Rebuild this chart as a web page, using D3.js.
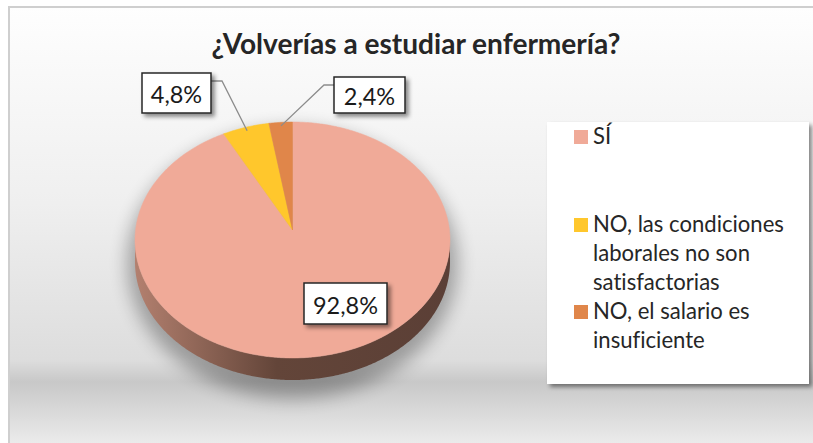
<!DOCTYPE html>
<html>
<head>
<meta charset="utf-8">
<script src="https://cdn.jsdelivr.net/npm/d3@7"></script>
<style>
  body { margin: 0; background: #fff; }
  text { font-family: Lato, "Open Sans", sans-serif; font-variant-ligatures: none; font-feature-settings: "liga" 0; }
</style>
</head>
<body>
<svg width="813" height="443"></svg>
<script>
// data
const categories = ["SÍ", "NO, las condiciones laborales no son satisfactorias", "NO, el salario es insuficiente"];
const values = [92.8, 4.8, 2.4];
const colors = ["#F0AA98", "#FFC72C", "#E0864A"];
const title = "¿Volverías a estudiar enfermería?";

var svg = d3.select("svg");
const width = +svg.attr("width");
const height = +svg.attr("height");

const locale = d3.formatLocale({ decimal: ",", thousands: ".", grouping: [3], currency: ["", "€"] });
const fmt = v => locale.format(".1f")(v) + "%";

// pie geometry
const cx = 292.5, cy = 240, rx = 157.5, ry = 118, depth = 22, apexDy = -10;

var defs = svg.append("defs");

var bg = defs.append("linearGradient").attr("id", "bg")
  .attr("gradientUnits", "userSpaceOnUse")
  .attr("x1", 0).attr("y1", 7).attr("x2", 0).attr("y2", height);
[[0, "#fefefe"], [0.45, "#efefef"], [0.81, "#dddddd"], [0.86, "#c8c8c8"], [1, "#ebebeb"]].forEach(s => {
  bg.append("stop").attr("offset", s[0]).attr("stop-color", s[1]);
});

var side = defs.append("linearGradient").attr("id", "side")
  .attr("gradientUnits", "userSpaceOnUse")
  .attr("x1", cx - rx).attr("y1", 0).attr("x2", cx + rx).attr("y2", 0);
[[0, "#b3806f"], [0.45, "#634539"], [1, "#5b3f36"]].forEach(s => {
  side.append("stop").attr("offset", s[0]).attr("stop-color", s[1]);
});

defs.append("filter").attr("id", "blur")
  .attr("x", "-30%").attr("y", "-30%").attr("width", "160%").attr("height", "160%")
  .append("feGaussianBlur").attr("stdDeviation", 9);

defs.append("filter").attr("id", "dshadow")
  .attr("x", "-20%").attr("y", "-20%").attr("width", "150%").attr("height", "160%")
  .append("feDropShadow").attr("dx", 3).attr("dy", 3).attr("stdDeviation", 2)
  .attr("flood-color", "#000").attr("flood-opacity", 0.45);

// chart area
svg.append("rect")
  .attr("x", 9).attr("y", 7).attr("width", width).attr("height", height)
  .attr("fill", "url(#bg)").attr("stroke", "#cfcfcf").attr("stroke-width", 2);

function fitText(sel, target) {
  var len = sel.node().getComputedTextLength();
  var fs = parseFloat(sel.attr("font-size"));
  sel.attr("font-size", fs * target / len);
  return fs * target / len;
}

// title
var titleText = svg.append("text")
  .attr("x", 416).attr("y", 54)
  .attr("text-anchor", "middle")
  .attr("font-weight", "bold")
  .attr("font-size", 24)
  .attr("fill", "#262626")
  .text(title);
fitText(titleText, 409);

function pt(a, dy) {
  return [cx + rx * Math.sin(a), cy - ry * Math.cos(a) + (dy || 0)];
}

function rim(a0, a1, dy) {
  var n = Math.max(2, Math.ceil((a1 - a0) / 0.01));
  var pts = [];
  for (var i = 0; i <= n; i++) pts.push(pt(a0 + (a1 - a0) * i / n, dy));
  return pts;
}

var pie = d3.pie().sort(null).value(d => d);
var arcs = pie(values);

var g = svg.append("g");

// shadow under the pie
g.append("ellipse")
  .attr("cx", cx).attr("cy", cy + depth / 2 + 12)
  .attr("rx", rx + 8).attr("ry", ry + depth / 2 + 6)
  .attr("fill", "#000").attr("opacity", 0.3)
  .attr("filter", "url(#blur)");

// side walls (front half only)
arcs.forEach((d, i) => {
  var a0 = Math.max(d.startAngle, Math.PI / 2);
  var a1 = Math.min(d.endAngle, 3 * Math.PI / 2);
  if (a1 <= a0) return;
  var pts = rim(a0, a1, 0).concat(rim(a0, a1, depth).reverse());
  g.append("path")
    .attr("d", d3.line()(pts) + "Z")
    .attr("fill", i === 0 ? "url(#side)" : d3.color(colors[i]).darker(1.2));
});

// top faces
arcs.forEach((d, i) => {
  var pts = [[cx, cy + apexDy]].concat(rim(d.startAngle, d.endAngle, 0));
  g.append("path")
    .attr("d", d3.line()(pts) + "Z")
    .attr("fill", colors[i])
    .attr("stroke", colors[i]).attr("stroke-width", 0.5);
});

// data labels
const labelBoxes = [
  { x: 304, y: 283, w: 83, h: 41 },
  { x: 142, y: 73, w: 69, h: 40 },
  { x: 334, y: 77, w: 71, h: 36 }
];

// leader lines for the small slices
arcs.forEach((d, i) => {
  if (i === 0) return;
  var b = labelBoxes[i];
  var mid = (d.startAngle + d.endAngle) / 2;
  var anchor = [cx + rx * 0.97 * Math.sin(mid), cy - ry * 0.97 * Math.cos(mid)];
  var left = b.x + b.w / 2 < anchor[0];
  var ex = left ? b.x + b.w : b.x;
  var ey = b.y + 8;
  var elbow = left ? ex + 11 : ex - 10;
  g.append("path")
    .attr("d", d3.line()([[ex, ey], [elbow, ey], anchor]))
    .attr("fill", "none").attr("stroke", "#8c8c8c").attr("stroke-width", 1.3);
});

var labelSize = null;
arcs.forEach((d, i) => {
  var b = labelBoxes[i];
  g.append("rect")
    .attr("x", b.x).attr("y", b.y).attr("width", b.w).attr("height", b.h)
    .attr("fill", "#fff").attr("stroke", "#262626").attr("stroke-width", 1.5)
    .attr("filter", "url(#dshadow)");
  var t = g.append("text")
    .attr("x", b.x + b.w / 2).attr("y", b.y + b.h / 2 + 1)
    .attr("text-anchor", "middle").attr("dominant-baseline", "central")
    .attr("font-size", 22).attr("fill", "#1a1a1a")
    .text(fmt(d.data));
  if (labelSize === null) labelSize = fitText(t, 65);
  else t.attr("font-size", labelSize);
});

// legend
var lg = svg.append("g");
lg.append("rect")
  .attr("x", 547).attr("y", 122).attr("width", 262).attr("height", 262)
  .attr("fill", "#fff").attr("filter", "url(#dshadow)");

const legendTop = [137, 225, 312];
const lineGap = 29;
var probe = lg.append("text").attr("font-size", 20).text("NO, las condiciones");
var legendSize = fitText(probe, 191);
probe.remove();

categories.forEach((c, i) => {
  lg.append("rect")
    .attr("x", 574).attr("y", legendTop[i] - 7)
    .attr("width", 14).attr("height", 14)
    .attr("fill", colors[i]);
  var t = lg.append("text")
    .attr("x", 593).attr("y", legendTop[i] + 7)
    .attr("font-size", legendSize).attr("fill", "#262626");
  // wrap words into lines that fit the legend
  var words = c.split(" "), line = [];
  var ts = t.append("tspan").attr("x", 593);
  words.forEach(w => {
    line.push(w);
    ts.text(line.join(" "));
    if (ts.node().getComputedTextLength() > 205 && line.length > 1) {
      line.pop();
      ts.text(line.join(" "));
      line = [w];
      ts = t.append("tspan").attr("x", 593).attr("dy", lineGap).text(w);
    }
  });
});
</script>
</body>
</html>
